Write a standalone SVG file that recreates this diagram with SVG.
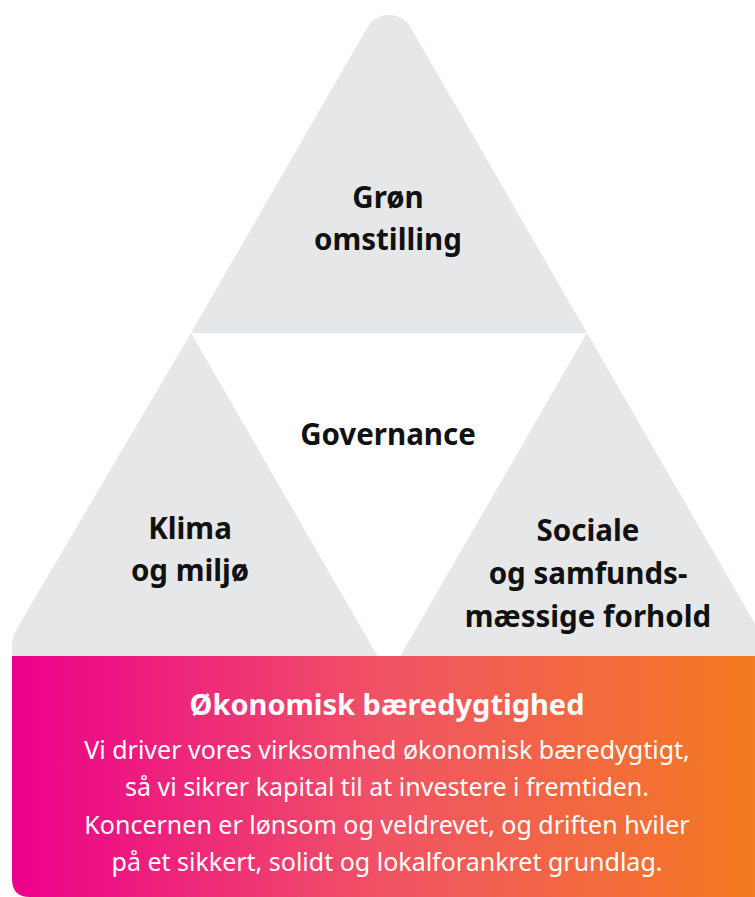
<svg xmlns="http://www.w3.org/2000/svg" width="755" height="897" viewBox="0 0 755 897">
<defs>
<linearGradient id="g" x1="12" y1="0" x2="755" y2="0" gradientUnits="userSpaceOnUse">
<stop offset="0" stop-color="#ec008c"/>
<stop offset="0.5" stop-color="#f05365"/>
<stop offset="1" stop-color="#f47b20"/>
</linearGradient>
<style>
.tri{fill:#e6e7e8}
.lbl{font-family:"Noto Sans","Liberation Sans",sans-serif;font-weight:700;font-size:29.5px;fill:#111;text-anchor:middle}
.hd{font-family:"Noto Sans","Liberation Sans",sans-serif;font-weight:700;font-size:29px;fill:#fff;text-anchor:middle}
.bd{font-family:"Noto Sans","Liberation Sans",sans-serif;font-weight:400;font-size:25px;fill:#fff;text-anchor:middle}
</style>
</defs>
<g id="top">
<path class="tri" d="M191,333 L367.35,27.5 A25,25 0 0 1 410.65,27.5 L587,333 Z"/>
<text class="lbl" x="388" y="208">Grøn</text>
<text class="lbl" x="388" y="250">omstilling</text>
</g>
<g id="governance">
<text class="lbl" x="388" y="445">Governance</text>
</g>
<g id="left">
<path class="tri" d="M191,333 L378,657 L12,657 L12,645 Q12,636 22,620 Z"/>
<text class="lbl" x="190" y="539">Klima</text>
<text class="lbl" x="190" y="581">og miljø</text>
</g>
<g id="right">
<path class="tri" d="M587,333 L780,667 L394,667 Z"/>
<text class="lbl" x="588" y="541">Sociale</text>
<text class="lbl" x="588" y="584">og samfunds-</text>
<text class="lbl" x="588" y="627">mæssige forhold</text>
</g>
<g id="economy">
<path d="M12,656 L755,656 L755,897 L30,897 Q12,897 12,879 Z" fill="url(#g)"/>
<text class="hd" x="387" y="715">Økonomisk bæredygtighed</text>
<text class="bd" x="387" y="759">Vi driver vores virksomhed økonomisk bæredygtigt,</text>
<text class="bd" x="387" y="796">så vi sikrer kapital til at investere i fremtiden.</text>
<text class="bd" x="387" y="834">Koncernen er lønsom og veldrevet, og driften hviler</text>
<text class="bd" x="387" y="871">på et sikkert, solidt og lokalforankret grundlag.</text>
</g>
<g id="connectors"></g>
</svg>
